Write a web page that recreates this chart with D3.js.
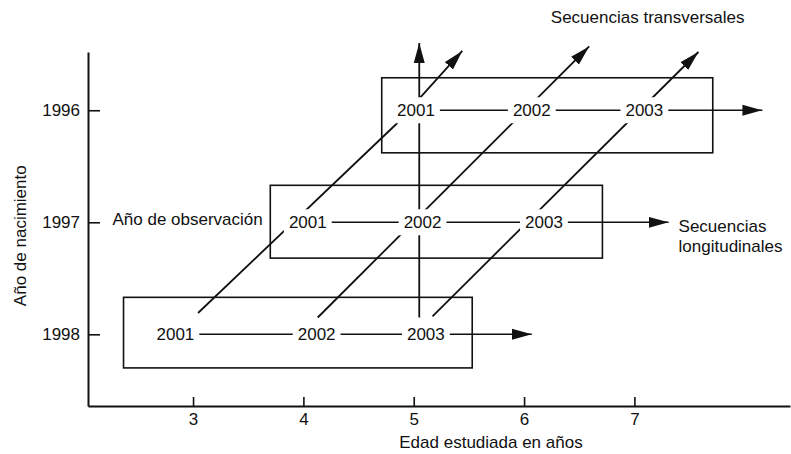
<!DOCTYPE html>
<html>
<head>
<meta charset="utf-8">
<script src="https://cdn.jsdelivr.net/npm/d3@7"></script>
<style>
  body { margin: 0; background: #fff; }
  svg { display: block; font-family: "Liberation Sans", Arial, Helvetica, sans-serif; }
</style>
</head>
<body>
<div id="container"></div>
<script>
// rows of the diagram (birth cohort) and the observation years
var birthYears = [1996, 1997, 1998];
var obsYears = ["2001", "2002", "2003"];
var ageTicks = [3, 4, 5, 6, 7];

// box extent of each cohort (age, year units)
var boxStart = [4.71, 3.70, 2.37];
var boxEnd = [7.71, 6.71, 5.53];
var boxTop = [1995.71, 1996.67, 1997.67];
var boxBottom = [1996.38, 1997.32, 1998.30];

// age at which each observation label sits, per cohort row
var labelAge = [
    [5.02, 6.07, 7.09],
    [4.04, 5.08, 6.18],
    [2.84, 4.12, 5.11]
];
// where the longitudinal arrow of each row ends
var longTip = [8.16, 7.31, 6.07];

// transversal sequences (age, year) points, last one is the arrow tip
var transPaths = [
    [[3.045, 1997.81], [4.84, 1996.125], [5.44, 1995.47]],
    [[4.13, 1997.85], [6.59, 1995.43]],
    [[5.17, 1997.84], [7.58, 1995.48]]
];
var verticalPath = [[5.05, 1997.85], [5.05, 1995.40]];

(function () {
    var width = 791;
    var height = 454;

    var svg = d3.select('#container')
        .append("svg")
        .attr("width", width)
        .attr("height", height);

    var x = d3.scaleLinear()
        .domain([2.048, 8.41])
        .range([88, 790]);

    var y = d3.scaleLinear()
        .domain([1995.48, 1998.64])
        .range([52, 406]);

    // arrow head
    svg.append("defs")
        .append("marker")
        .attr("id", "arrow")
        .attr("viewBox", "0 -6 20 12")
        .attr("markerUnits", "userSpaceOnUse")
        .attr("markerWidth", 20)
        .attr("markerHeight", 12)
        .attr("refX", 20)
        .attr("refY", 0)
        .attr("orient", "auto")
        .append("path")
        .attr("d", "M0,-5.5L20,0L0,5.5Z")
        .style("fill", "#111");

    // axes
    var yAxis = svg.append("g")
        .attr("transform", "translate(" + x.range()[0] + ",0)")
        .call(d3.axisLeft(y).tickValues(birthYears).tickFormat(d3.format("d"))
            .tickSizeInner(-12).tickSizeOuter(0).tickPadding(8));

    var xAxis = svg.append("g")
        .attr("transform", "translate(0," + y.range()[1] + ")")
        .call(d3.axisBottom(x).tickValues(ageTicks).tickFormat(d3.format("d"))
            .tickSizeInner(-9).tickSizeOuter(0).tickPadding(7));

    [xAxis, yAxis].forEach(function (a) {
        a.select(".domain").style("stroke", "#111").style("stroke-width", 2);
        a.selectAll(".tick line").style("stroke", "#111").style("stroke-width", 1.6);
        a.selectAll(".tick text")
            .style("font-family", "Liberation Sans, Arial, sans-serif")
            .style("font-size", "17px")
            .style("fill", "#111");
    });

    // axis titles
    svg.append("text")
        .attr("x", x(5.70))
        .attr("y", y(1998.96))
        .attr("dy", "0.36em")
        .attr("text-anchor", "middle")
        .style("font-size", "17px")
        .style("fill", "#111")
        .text("Edad estudiada en años");

    svg.append("text")
        .attr("transform", "translate(26," + y(1997.12) + ") rotate(-90)")
        .attr("text-anchor", "middle")
        .style("font-size", "17px")
        .style("fill", "#111")
        .text("Año de nacimiento");

    // cohort boxes
    svg.selectAll("rect.box")
        .data(birthYears)
        .enter()
        .append("rect")
        .attr("class", "box")
        .attr("x", function (d, i) { return x(boxStart[i]); })
        .attr("y", function (d, i) { return y(boxTop[i]); })
        .attr("width", function (d, i) { return x(boxEnd[i]) - x(boxStart[i]); })
        .attr("height", function (d, i) { return y(boxBottom[i]) - y(boxTop[i]); })
        .style("fill", "none")
        .style("stroke", "#111")
        .style("stroke-width", 1.6);

    var line = d3.line()
        .x(function (d) { return x(d[0]); })
        .y(function (d) { return y(d[1]); });

    // longitudinal sequences (rows)
    svg.selectAll("path.long")
        .data(birthYears)
        .enter()
        .append("path")
        .attr("class", "long")
        .attr("d", function (d, i) { return line([[labelAge[i][0], d], [longTip[i], d]]); })
        .style("fill", "none")
        .style("stroke", "#111")
        .style("stroke-width", 1.6)
        .attr("marker-end", "url(#arrow)");

    // transversal sequences (diagonals) and the vertical one
    svg.selectAll("path.trans")
        .data(transPaths.concat([verticalPath]))
        .enter()
        .append("path")
        .attr("class", "trans")
        .attr("d", function (d) { return line(d); })
        .style("fill", "none")
        .style("stroke", "#111")
        .style("stroke-width", 1.8)
        .attr("marker-end", "url(#arrow)");

    // observation year labels, with a white background that breaks the lines
    var cells = [];
    birthYears.forEach(function (b, i) {
        obsYears.forEach(function (o, j) {
            cells.push({ birth: b, obs: o, age: labelAge[i][j] });
        });
    });

    var lab = svg.selectAll("g.lab")
        .data(cells)
        .enter()
        .append("g")
        .attr("class", "lab")
        .attr("transform", function (d) { return "translate(" + x(d.age) + "," + y(d.birth) + ")"; });

    var bg = lab.append("rect").style("fill", "#fff");
    var txt = lab.append("text")
        .attr("text-anchor", "middle")
        .attr("dy", "0.36em")
        .style("font-size", "17px")
        .style("fill", "#111")
        .text(function (d) { return d.obs; });

    txt.each(function () {
        var w = this.getComputedTextLength();
        d3.select(this.previousSibling)
            .attr("x", -w / 2 - 5)
            .attr("width", w + 10)
            .attr("y", -13)
            .attr("height", 26);
    });

    // annotations
    svg.append("text")
        .attr("x", x(7.12))
        .attr("y", y(1995.17))
        .attr("dy", "0.36em")
        .attr("text-anchor", "middle")
        .style("font-size", "17px")
        .style("fill", "#111")
        .text("Secuencias transversales");

    svg.append("text")
        .attr("x", x(2.27))
        .attr("y", y(1996.97))
        .attr("dy", "0.36em")
        .style("font-size", "17px")
        .style("fill", "#111")
        .text("Año de observación");

    svg.append("text")
        .attr("x", x(7.40))
        .attr("y", y(1997.03))
        .attr("dy", "0.36em")
        .style("font-size", "17px")
        .style("fill", "#111")
        .text("Secuencias");

    svg.append("text")
        .attr("x", x(7.40))
        .attr("y", y(1997.21))
        .attr("dy", "0.36em")
        .style("font-size", "17px")
        .style("fill", "#111")
        .text("longitudinales");
})();
</script>
</body>
</html>
